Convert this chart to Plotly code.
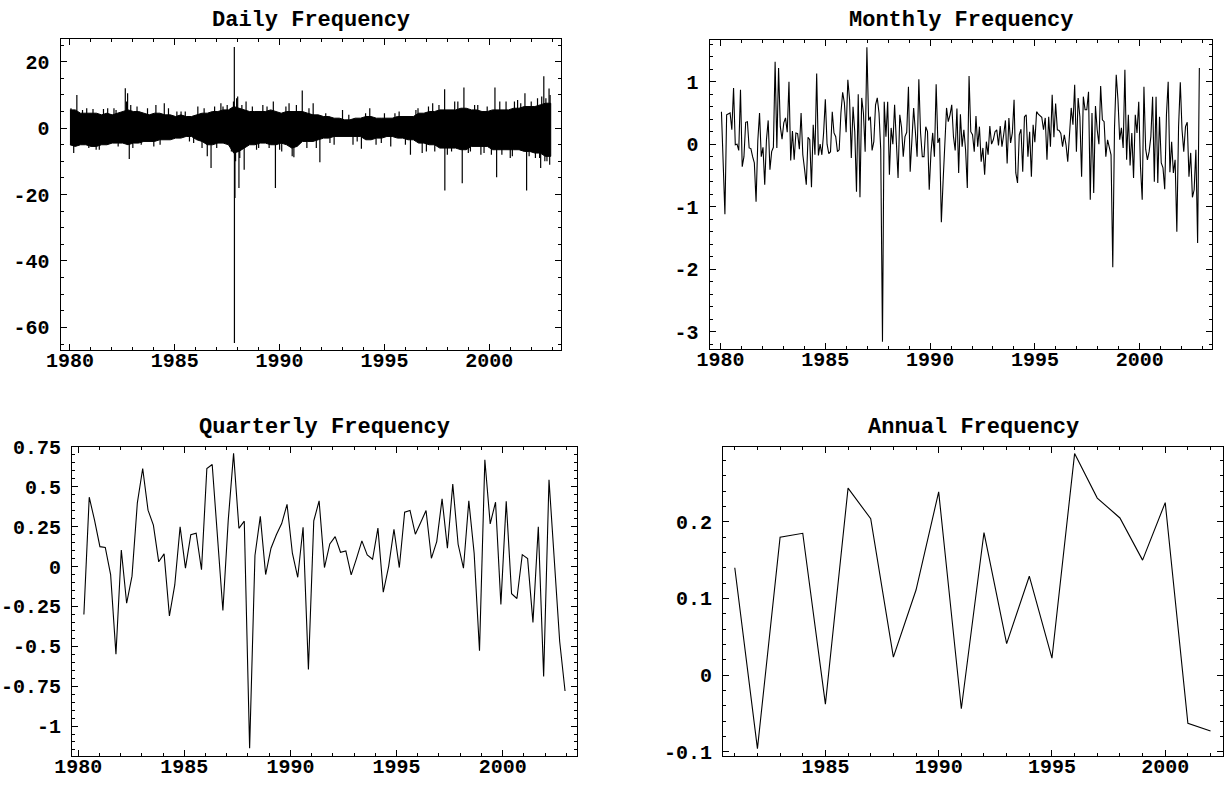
import numpy as np
import plotly.graph_objects as go

# ---------------- data ----------------
annual_years = list(range(1981, 2003))
annual_values = [0.14, -0.096, 0.18, 0.185, -0.038, 0.244, 0.204, 0.0235, 0.111, 0.239,
                 -0.044, 0.186, 0.041, 0.129, 0.022, 0.289, 0.231, 0.205, 0.15, 0.225,
                 -0.063, -0.073]

quarterly_values = [-0.30, 0.435, 0.29, 0.125, 0.12, -0.05, -0.55, 0.104, -0.23, -0.06,
                    0.40, 0.615, 0.354, 0.26, 0.03, 0.08, -0.31, -0.115, 0.25, -0.01,
                    0.20, 0.21, -0.02, 0.615, 0.64, 0.2, -0.275, 0.29, 0.71, 0.24,
                    0.285, -1.14, 0.07, 0.315, -0.05, 0.115, 0.2, 0.27, 0.39, 0.084,
                    -0.067, 0.247, -0.645, 0.287, 0.412, -0.006, 0.142, 0.188, 0.09, 0.098,
                    -0.052, 0.052, 0.161, 0.073, 0.046, 0.241, -0.161, 0.0, 0.234, -0.006,
                    0.341, 0.352, 0.203, 0.276, 0.352, 0.052, 0.157, 0.425, 0.115, 0.517,
                    0.14, -0.01, 0.412, 0.084, -0.528, 0.67, 0.268, 0.404, -0.237, 0.41,
                    -0.17, -0.20, 0.075, 0.05, -0.35, 0.25, -0.69, 0.545, 0.05, -0.47, -0.78]
quarterly_start, quarterly_end = 1980.27, 2002.94

monthly_values = [0.52, -0.3, -1.12, 0.47, 0.48, 0.5, 0.23, 0.9, -0.01, 0, -0.1, 0.87,
                  -0.36, -0.2, 0.35, 0.36, -0.06, -0.07, -0.2, -0.3, -0.92, 0.05,
                  0.5, -0.2, -0.05, -0.65, 0.07, 0.38, -0.41, -0.12, -0.05, 1.32,
                  -0.06, 1.22, 0.28, 0.08, 0.34, 0.42, 0.19, 1.0, -0.26, 0.21,
                  -0.25, 0.18, 0.17, -0.08, 0.5, -0.17, -0.4, -0.65, 0.11, 0.07,
                  -0.69, 0.31, -0.17, 1.13, -0.18, 0.0, -0.17, 0.18, 0.72, 0,
                  -0.15, -0.12, 0.52, 0.18, 0.12, -0.12, -0.09, 0.5, 0.83, 0.66,
                  0.19, 1.03, 0.71, -0.22, 0.6, 0.2, -0.76, 0.8, -0.85, 0.74,
                  0.5, -0.12, 1.55, 0.38, 0.44, -0.1, 0.04, 0.63, 0.74, 0.5,
                  -0.09, -3.16, 0.68, 0.12, 0.68, -0.49, 0.26, 0, 0.63, -0.06,
                  -0.54, 0.47, 0.27, -0.2, 0.12, 0.19, 0.92, -0.44, 0.04, 0.58,
                  0.2, -0.2, 1.04, 0.18, -0.2, -0.2, 0.28, 0.2, -0.73, -0.14,
                  0.18, -0.2, 0.96, 0.02, 0.1, -1.25, -0.6, -0.04, 0.58, 0.36,
                  0.47, 0.63, 0.12, -0.1, 0.57, -0.46, 0.48, -0.04, 0.23, -0.09,
                  -0.7, 1.09, 0.2, 0.15, -0.12, 0.45, -0.04, 0.28, -0.28, -0.06,
                  -0.49, 0.04, -0.17, 0.29, 0.0, 0.07, 0.2, 0.23, -0.02, 0.29,
                  -0.04, 0.15, 0.38, -0.31, 0.42, 0.02, 0.18, 0.71, -0.46, -0.62,
                  0.15, 0.24, -0.44, 0.44, 0.47, -0.2, 0.2, -0.52, 0.31, 0.03,
                  0.52, 0.48, 0.45, 0.43, 0.23, 0.42, -0.25, 0.44, -0.04, 0.79,
                  0.11, 0.65, 0.23, 0.22, 0.17, -0.04, 0.15, -0.01, -0.28, 0.23,
                  0.58, 0.31, 0.95, -0.12, 0.74, 0.44, -0.52, 0.76, 0.55, 0.55,
                  0.84, -0.89, 0.5, -0.78, 0.61, 0.23, 0.0, 0.93, 0.39, 0.36,
                  -0.2, 0.07, -0.03, -0.17, -1.97, 0.26, 1.11, 0.71, 0.07, 0.26,
                  -0.06, 1.19, -0.25, 0.47, -0.34, 0.18, -0.54, 0.47, 0.18, 0.68,
                  -0.36, -0.89, 0.92, -0.08, -0.25, -0.12, 0.12, 0.76, -0.6, 0.76,
                  -0.62, 0.44, -0.3, -0.38, -0.72, 0.47, 1.0, -0.45, 0.04, -0.46,
                  -0.25, -1.4, 0.28, 0.99, 0.23, -0.12, 0.28, 0.35, -0.52, -0.14,
                  -0.85, -0.73, -0.09, -1.58, 1.22]
monthly_start, monthly_end = 1980.04, 2002.85

# daily returns: quarterly envelope of the dense band (high / low) + isolated spikes
daily_start, daily_end = 1980.0, 2002.93
daily_high = [5.5, 5.5, 4.5, 4.5, 4.5, 4.5, 4, 4.5, 4, 4.5, 5, 5.5, 5, 5, 4.5, 4,
              4.5, 4.5, 4, 4, 3.5, 4, 3.5, 3.5, 4, 4.5, 4.5, 5, 5, 5.5, 5.5, 6.5,
              6, 5.5, 5, 5, 5, 5, 5.5, 5, 4.5, 5, 5, 5, 5, 4.5, 4, 4,
              3.5, 3.5, 3, 3, 2.5, 2.5, 3, 3, 3.5, 3.5, 3, 3, 3, 3, 3.5, 3.5,
              3.5, 3.5, 4.5, 4.5, 5, 5, 5.5, 5.5, 5.5, 5.5, 6, 6, 5.5, 5.5, 5, 5,
              5.5, 5.5, 5.5, 5.5, 6, 6, 6.5, 6.5, 6.5, 7, 7.5, 7.5]
daily_low = [-5, -5.5, -5, -5, -5.5, -5.5, -5, -5, -4.5, -4.5, -4.5, -5, -4.5, -4.5, -4, -4,
             -4, -3.5, -3.5, -3.5, -3, -3, -2.5, -2.5, -3.5, -4, -5, -5, -4.5, -4.5, -5, -7.5,
             -7, -6, -5, -5, -4.5, -4.5, -5, -5, -4.5, -5, -6, -5.5, -4, -4, -4, -3.5,
             -3, -3, -2.5, -2.5, -2.5, -2.5, -2.5, -2.5, -3.5, -3.5, -3, -3, -2.5, -2.5, -3, -3,
             -3.5, -3.5, -4.5, -4.5, -5, -5, -6, -6, -6, -6, -6.5, -6.5, -5.5, -5.5, -5.5, -5.5,
             -6.5, -6.5, -6.5, -6.5, -6.5, -6.5, -7, -7, -7.5, -7.5, -8.5, -8.5]
spike_dates = [1980.05, 1980.18, 1980.33, 1980.6, 1980.9, 1981.1, 1981.4, 1981.6, 1981.8, 1982.1,
               1982.3, 1982.64, 1982.75, 1982.83, 1983.2, 1983.4, 1984.0, 1984.1, 1984.5, 1984.7,
               1985.1, 1985.5, 1985.9, 1986.1, 1986.3, 1986.55, 1986.73, 1986.9, 1987.2, 1987.5,
               1987.84, 1987.845, 1987.87, 1987.95, 1988.06, 1988.0, 1988.31, 1988.4, 1988.7, 1989.0,
               1989.2, 1989.5, 1989.7, 1989.8, 1990.1, 1990.3, 1990.6, 1990.68, 1990.8, 1991.08,
               1991.3, 1991.6, 1991.92, 1992.2, 1992.6, 1993.0, 1993.5, 1993.9, 1994.3, 1994.6,
               1995.0, 1995.3, 1995.7, 1996.24, 1996.5, 1996.8, 1997.1, 1997.4, 1997.6, 1997.87,
               1997.88, 1998.2, 1998.5, 1998.71, 1998.79, 1999.1, 1999.3, 1999.6, 1999.9, 2000.27,
               2000.35, 2000.6, 2000.8, 2001.0, 2001.2, 2001.5, 2001.7, 2001.78, 2002.0, 2002.2,
               2002.45, 2002.6, 2002.65, 2002.85, 2002.88,
               1980.8, 1981.25, 1982.2, 1983.0, 1983.7, 1984.3, 1985.3, 1985.7, 1986.4, 1987.0,
               1987.3, 1987.7, 1988.2, 1988.9, 1989.4, 1990.0, 1990.45, 1991.4, 1991.75, 1992.4,
               1993.3, 1993.7, 1994.1, 1994.85, 1995.5, 1996.0, 1996.6, 1997.0, 1997.3, 1998.0,
               1998.35, 1999.0, 1999.45, 1999.75, 2000.1, 2000.5, 2001.1, 2001.35, 2001.9, 2002.3,
               1982.7, 1982.9, 1987.8, 1987.9, 1988.1, 2002.5, 2002.7, 2002.75, 2002.9, 2002.4]
spike_values = [6, -7.5, 10, 5.5, -6, 5.8, -6.5, 5.8, 6, 6,
                -5.5, 12, 10.5, -9.3, 6.5, -5, -5.5, 7, 7.5, 6,
                5, 5, -4.5, 6.5, -6, -8.5, -12, 6.5, 7.5, 7,
                24.4, -64.7, -21, 9, -18, 9.5, -12.5, 8, 6.5, -6,
                7, -6, 8, -18, -7, 6.5, -8.5, -8.8, 7, 11.3,
                -6, 7.5, -10.3, 4.5, -5, 5.5, -5, -6.2, 6, -5,
                4.5, -5.5, 5, -8, 5.5, -7.5, 6.5, -7, 7, 11.7,
                -18.8, -7, 8, -16.6, 12.2, -7, 7, -8, 6.5, 12.2,
                -14.8, -8, 8, -9, 8, 7.5, 10.5, -18.8, 8, -9,
                -12, 15.6, -10, 11.9, -11,
                6, -6.5, 5.5, -6, 6, -5, 5, -4, 6, -6,
                6.5, -7, 7, -6.5, 6.5, -6.5, 7.5, 6, -6, -4.5,
                4, -4, 4.5, -4.5, 4.5, -5, 6, -7, 7.5, -8,
                8, -7.5, 7, -7.5, -8, 8, -8.5, 8.5, -8.5, 9,
                8, 7, 8, -10, -9, 9.5, 9, -10, 10, -9]

# ---------------- layout helpers ----------------
W, H = 1225, 792
FONT = "Liberation Mono"


def xdom(a, b):
    return [a / W, b / W]


def ydom(top, bottom):
    return [1 - bottom / H, 1 - top / H]


def axis(dom, rng, tickvals, ticktext, minorvals, anchor, standoff):
    return dict(domain=dom, range=rng, anchor=anchor, showgrid=False, zeroline=False,
                automargin=False,
                showline=True, linecolor="black", linewidth=1, mirror="allticks",
                ticks="inside", ticklen=6, tickwidth=1, tickcolor="black",
                tickmode="array", tickvals=tickvals, ticktext=ticktext,
                tickfont=dict(family=FONT, size=20, color="black", weight="bold"),
                ticklabelstandoff=standoff,
                minor=dict(ticks="inside", ticklen=3, tickwidth=1, tickcolor="black",
                           tickmode="array", tickvals=minorvals, showgrid=False))


fig = go.Figure()
line = dict(color="black", width=1.1)

# Daily
bin_x = np.linspace(daily_start, daily_end, len(daily_high))
fig.add_trace(go.Scatter(x=list(bin_x) + list(bin_x[::-1]),
                         y=list(daily_high) + list(daily_low[::-1]),
                         fill="toself", fillcolor="black", mode="lines",
                         line=dict(color="black", width=1), xaxis="x", yaxis="y",
                         showlegend=False, hoverinfo="skip"))
sx, sy = [], []
for d, v in zip(spike_dates, spike_values):
    sx += [d, d, None]
    sy += [0, v, None]
fig.add_trace(go.Scatter(x=sx, y=sy, mode="lines", line=dict(color="black", width=1.2),
                         xaxis="x", yaxis="y", showlegend=False))

# Monthly
mx = np.linspace(monthly_start, monthly_end, len(monthly_values))
fig.add_trace(go.Scatter(x=mx, y=monthly_values, mode="lines", line=line,
                         xaxis="x2", yaxis="y2", showlegend=False))

# Quarterly
qx = np.linspace(quarterly_start, quarterly_end, len(quarterly_values))
fig.add_trace(go.Scatter(x=qx, y=quarterly_values, mode="lines", line=line,
                         xaxis="x3", yaxis="y3", showlegend=False))

# Annual
fig.add_trace(go.Scatter(x=annual_years, y=annual_values, mode="lines", line=line,
                         xaxis="x4", yaxis="y4", showlegend=False))

year_ticks = [1980, 1985, 1990, 1995, 2000]
year_text = [str(v) for v in year_ticks]
year_minor = list(range(1979, 2005))

d_y = [20, 0, -20, -40, -60]
m_y = [1, 0, -1, -2, -3]
q_y = [0.75, 0.5, 0.25, 0, -0.25, -0.5, -0.75, -1]
q_txt = ["0.75", "0.5", "0.25", "0", "-0.25", "-0.5", "-0.75", "-1"]
a_y = [0.2, 0.1, 0, -0.1]
a_txt = ["0.2", "0.1", "0", "-0.1"]

XS, YS = -8, 6

fig.update_layout(
    template="none",
    width=W, height=H, margin=dict(l=0, r=0, t=0, b=0, autoexpand=False),
    paper_bgcolor="white", plot_bgcolor="white", showlegend=False,
    xaxis=axis(xdom(60.5, 561), [1979.55, 2003.42], year_ticks, year_text, year_minor, "y", XS),
    yaxis=axis(ydom(39.3, 350), [-66.8, 26.75], d_y, [str(v) for v in d_y],
               list(range(-65, 30, 5)), "x", YS),
    xaxis2=axis(xdom(709.5, 1211.5), [1979.47, 2003.43], year_ticks, year_text, year_minor, "y2", XS),
    yaxis2=axis(ydom(39.5, 348.5), [-3.27, 1.675], m_y, [str(v) for v in m_y],
                [round(-3.2 + 0.2 * i, 2) for i in range(25)], "x2", YS),
    xaxis3=axis(xdom(72, 576.5), [1979.71, 2003.48], year_ticks, year_text, year_minor, "y3", XS),
    yaxis3=axis(ydom(446.7, 756), [-1.188, 0.752], q_y, q_txt,
                [round(-1.15 + 0.05 * i, 2) for i in range(39)], "x3", YS),
    xaxis4=axis(xdom(723, 1223), [1980.48, 2002.55], [1985, 1990, 1995, 2000],
                ["1985", "1990", "1995", "2000"], year_minor, "y4", XS),
    yaxis4=axis(ydom(446.7, 756), [-0.1056, 0.298], a_y, a_txt,
                [round(-0.1 + 0.02 * i, 2) for i in range(21)], "x4", YS),
)

titles = [("Daily Frequency", 310.5, 20), ("Monthly Frequency", 960.5, 20),
          ("Quarterly Frequency", 324, 427), ("Annual Frequency", 973, 427)]
for text, cx, cy in titles:
    fig.add_annotation(text=text, x=cx / W, y=1 - cy / H, xref="paper", yref="paper",
                       showarrow=False, xanchor="center", yanchor="middle",
                       font=dict(family=FONT, size=22, color="black", weight="bold"))

fig.write_html("out.html")
